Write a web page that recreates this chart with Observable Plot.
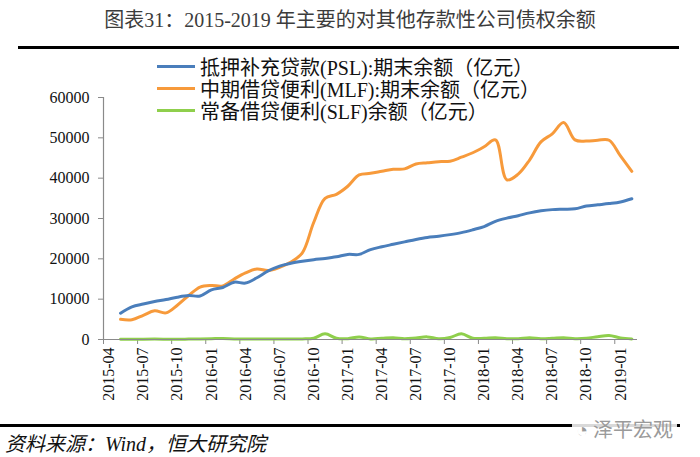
<!DOCTYPE html>
<html><head><meta charset="utf-8">
<script src="https://cdn.jsdelivr.net/npm/d3@7"></script>
<script src="https://cdn.jsdelivr.net/npm/@observablehq/plot@0.6"></script>
<style>
body{margin:0;background:#fff;}
#wrap{position:relative;width:700px;height:457px;overflow:hidden;background:#fff;font-family:"Liberation Serif","Noto Sans CJK SC",serif;}
#title{position:absolute;left:0;width:700px;top:4px;text-align:center;font-size:20px;color:#3c3c3c;white-space:nowrap;}
#rule1{position:absolute;left:18px;width:661px;top:46px;height:3px;background:#000;}
#chart{position:absolute;left:0;top:0;}
#legend{position:absolute;left:157px;top:55px;}
.row{display:flex;align-items:center;height:22px;font-size:20px;color:#111;white-space:nowrap;}
.sw{width:38px;height:3px;margin-right:5px;}
#rule2{position:absolute;left:0;width:680px;top:424px;height:3px;background:#000;}
#source{position:absolute;left:5px;top:428px;font-size:20px;font-style:italic;color:#111;white-space:nowrap;}
#wm{position:absolute;left:572px;top:414px;font-size:20px;color:#9a9a9a;background:rgba(255,255,255,0.85);padding:0 4px;white-space:nowrap;}
</style></head><body>
<div id="wrap">
 <div id="title">图表31：2015-2019 年主要的对其他存款性公司债权余额</div>
 <div id="rule1"></div>
 <div id="chart"></div>
 <div id="legend"></div>
 <div id="rule2"></div>
 <div id="source">资料来源：Wind，恒大研究院</div>
 <div id="wm">◔ 泽平宏观</div>
</div>
<script>
const months = ["2015-04","2015-05","2015-06","2015-07","2015-08","2015-09","2015-10","2015-11","2015-12",
"2016-01","2016-02","2016-03","2016-04","2016-05","2016-06","2016-07","2016-08","2016-09","2016-10","2016-11","2016-12",
"2017-01","2017-02","2017-03","2017-04","2017-05","2017-06","2017-07","2017-08","2017-09","2017-10","2017-11","2017-12",
"2018-01","2018-02","2018-03","2018-04","2018-05","2018-06","2018-07","2018-08","2018-09","2018-10","2018-11","2018-12",
"2019-01","2019-02"];
const psl = [null,6500,8100,8800,9400,9900,10500,10900,10800,
12300,12900,14200,14000,15300,17000,18200,18900,19400,19800,20100,20500,
21100,21100,22300,23000,23600,24200,24800,25300,25600,26000,26500,27200,
28000,29300,30100,30700,31400,31900,32200,32300,32400,33100,33400,33700,
34100,34900];
const mlf = [null,5000,4900,6000,7100,6600,8500,10900,13000,
13400,13300,15000,16500,17500,17100,17900,19200,21500,29000,35000,36000,
38000,40800,41200,41700,42200,42300,43500,43800,44100,44200,45200,46300,
47800,49500,39600,41000,44500,49000,51000,53800,49500,49200,49400,49400,
45500,41700];
const slf = [null,50,50,80,100,80,50,100,150,
200,250,150,100,100,100,100,100,150,300,1400,300,
200,650,150,300,450,200,400,650,200,500,1400,300,
300,450,200,200,450,200,300,450,200,300,700,1000,
400,150];
const seriesNames = ["抵押补充贷款(PSL):期末余额（亿元）","中期借贷便利(MLF):期末余额（亿元）","常备借贷便利(SLF)余额（亿元）"];
const seriesColors = ["#4a7ebb","#f79a3b","#8fcf4c"];
const yTicks = [0,10000,20000,30000,40000,50000,60000];

const rows = months.map((m,i)=>({i, m, psl: psl[i], mlf: mlf[i], slf: slf[i]}));
const labelIdx = months.map((m,i)=>i).filter(i=>i%3===0);
const bounds = labelIdx.map(i=>i-0.5);
const axisGray = "#8a8a8a";

const chart = Plot.plot({
  width: 700, height: 420,
  marginTop: 97, marginBottom: 81, marginLeft: 103, marginRight: 63,
  style: {fontFamily: '"Liberation Serif","Noto Sans CJK SC",serif', fontSize: "16px", color: "#111", background: "transparent"},
  x: {type: "linear", domain: [-0.5, months.length - 0.5]},
  y: {domain: [yTicks[0], yTicks[yTicks.length-1]]},
  marks: [
    Plot.axisY({ticks: yTicks, tickSize: 5, tickPadding: 9, stroke: axisGray, label: null, tickFormat: d => String(d)}),
    Plot.axisX({ticks: bounds, tickSize: 5, stroke: axisGray, tickFormat: () => "", label: null}),
    Plot.axisX({ticks: labelIdx, tickSize: 0, tickPadding: 8, tickRotate: -90, tickFormat: i => months[i], label: null}),
    Plot.line(rows.filter(d=>d.slf!=null), {x: "i", y: "slf", stroke: seriesColors[2], strokeWidth: 3, curve: "catmull-rom"}),
    Plot.ruleY([yTicks[0]], {stroke: axisGray, strokeWidth: 1.2}),
    Plot.ruleX([-0.5], {stroke: axisGray, strokeWidth: 1.2}),
    Plot.line(rows.filter(d=>d.mlf!=null), {x: "i", y: "mlf", stroke: seriesColors[1], strokeWidth: 3, curve: "catmull-rom"}),
    Plot.line(rows.filter(d=>d.psl!=null), {x: "i", y: "psl", stroke: seriesColors[0], strokeWidth: 3, curve: "catmull-rom"})
  ]
});
document.getElementById("chart").appendChild(chart);

const lg = document.getElementById("legend");
seriesNames.forEach((n,k)=>{
  const r = document.createElement("div"); r.className = "row";
  const s = document.createElement("span"); s.className = "sw"; s.style.background = seriesColors[k];
  const t = document.createElement("span"); t.textContent = n;
  r.appendChild(s); r.appendChild(t); lg.appendChild(r);
});
</script>
</body></html>
